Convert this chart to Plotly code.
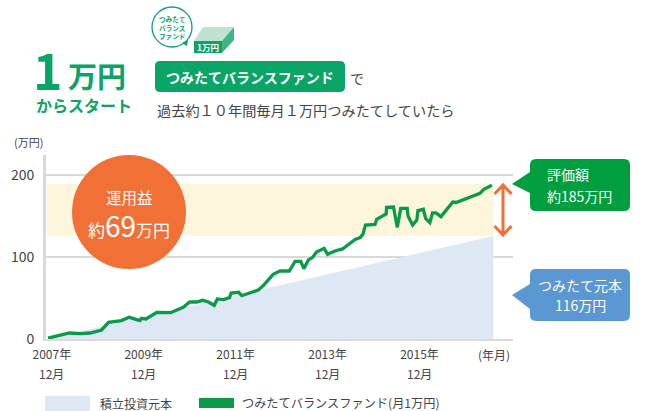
import plotly.graph_objects as go

# ---- data ----
fund_months = [0, 5.6, 8.4, 11, 14, 15.8, 19.2, 21.2, 24, 24.4, 25.6, 28.4, 32, 35.3, 37, 38.8, 40.4, 41.9, 43.4, 44.2,
               45.8, 47.4, 47.8, 49.8, 50.6, 54.9, 56.2, 58.8, 60.6, 63, 64.5, 66, 66.8, 68, 69.1, 70.1, 72.1, 73, 74.9,
               76.9, 80.2, 81.5, 82.2, 82.9, 85.4, 85.8, 88.3, 88.4, 90.2, 91.2, 92.1, 93.8, 94, 95.2, 96.3, 96.6, 98,
               98.6, 99.7, 100.4, 101.3, 102.6, 105.7, 106.7, 112.8, 113.8, 115.9]
fund_values = [1, 7.3, 6.5, 7.3, 11, 20.3, 22.4, 26.4, 22.4, 25.2, 24.4, 32.5, 32.1, 38.6, 45.1, 45.1, 47.2, 45.1, 41, 48.8,
               48, 50.4, 56, 56.9, 52.8, 59.7, 65, 78.9, 82.9, 82.9, 94.7, 94.7, 85.8, 96.4, 99.6, 106.1, 110.6, 103.3, 107.3,
               109.8, 121.5, 123.6, 127.6, 139, 139.8, 145.9, 152.4, 160.6, 161, 136.2, 159.3, 159.3, 150, 139, 145, 156.5, 158.2,
               147, 141.9, 153.7, 153.7, 149.2, 167, 166.7, 177.6, 182.5, 187.4]
principal_months = [0, 116.3]
principal_values = [0, 125.6]
band_values = [125.6, 189]
y_ticks = [0, 100, 200]
x_tick_months = [1, 25, 49, 73, 97]
x_year_labels = ["2007年", "2009年", "2011年", "2013年", "2015年"]
x_month_label = "12月"

FONT = "Noto Sans CJK JP"
W, H = 656, 411
L, R, T, B = 46, 513, 155, 339
GREEN = "#0aa566"
LINE = "#0b9a4a"
GREY = "#d9d9d9"
TXT = "#444444"


def px(x):
    return (x - L) / (R - L)


def py(y):
    return (B - y) / (B - T)


def P(points):
    return "M" + " L".join(f"{px(x):.5f},{py(y):.5f}" for x, y in points) + " Z"


def rrect(x0, y0, x1, y1, r, tip=None, up=13, down=10):
    """Rounded rectangle, optionally with a pointer on its left edge."""
    s = f"M{px(x0 + r):.5f},{py(y0):.5f} L{px(x1 - r):.5f},{py(y0):.5f} "
    s += f"Q{px(x1):.5f},{py(y0):.5f} {px(x1):.5f},{py(y0 + r):.5f} L{px(x1):.5f},{py(y1 - r):.5f} "
    s += f"Q{px(x1):.5f},{py(y1):.5f} {px(x1 - r):.5f},{py(y1):.5f} L{px(x0 + r):.5f},{py(y1):.5f} "
    s += f"Q{px(x0):.5f},{py(y1):.5f} {px(x0):.5f},{py(y1 - r):.5f} "
    if tip:
        s += f"L{px(x0):.5f},{py(tip[1] + down):.5f} L{px(tip[0]):.5f},{py(tip[1]):.5f} L{px(x0):.5f},{py(tip[1] - up):.5f} "
    s += f"L{px(x0):.5f},{py(y0 + r):.5f} Q{px(x0):.5f},{py(y0):.5f} {px(x0 + r):.5f},{py(y0):.5f} Z"
    return s


fig = go.Figure()
fig.add_trace(go.Scatter(x=principal_months, y=principal_values, mode="lines", fill="tozeroy",
                         fillcolor="#dde8f4", line=dict(width=0, color="#dde8f4"), name="積立投資元本", hoverinfo="skip"))
fig.add_trace(go.Scatter(x=fund_months, y=fund_values, mode="lines", line=dict(color=LINE, width=3.3),
                         name="つみたてバランスファンド(月1万円)"))

shapes = [
    dict(type="rect", xref="x", yref="y", x0=principal_months[0] - 0.2, x1=principal_months[1], y0=band_values[0], y1=band_values[1],
         fillcolor="#fdf6dc", line_width=0, layer="below"),
]


def pshape(path, fill, line=None, lw=0):
    return dict(type="path", xref="paper", yref="paper", path=path, fillcolor=fill,
                line=dict(color=line or fill, width=lw), layer="above")


# orange circle
shapes.append(dict(type="circle", xref="paper", yref="paper", x0=px(72), x1=px(186), y0=py(269), y1=py(155),
                   fillcolor="#f07036", line_width=0, layer="above"))
# callouts
shapes.append(pshape(rrect(530, 159, 630, 211, 6, (512, 184), 12, 9), "#009e3f"))
shapes.append(pshape(rrect(530, 269, 630, 321, 6, (512, 295), 11, 14), "#5b97d2"))
# double arrow
arrow = dict(type="path", xref="paper", yref="paper", layer="above", line=dict(color="#f07036", width=3),
             path=f"M{px(503):.5f},{py(185):.5f} L{px(503):.5f},{py(235):.5f} "
                  f"M{px(494.5):.5f},{py(194):.5f} L{px(503):.5f},{py(185):.5f} L{px(511.5):.5f},{py(194):.5f} "
                  f"M{px(494.5):.5f},{py(226):.5f} L{px(503):.5f},{py(235):.5f} L{px(511.5):.5f},{py(226):.5f}")
shapes.append(arrow)
# header pill
shapes.append(pshape(rrect(155, 61, 345, 92, 5), GREEN))
# icon bubble
shapes.append(dict(type="circle", xref="paper", yref="paper", x0=px(152), x1=px(192), y0=py(47), y1=py(7),
                   fillcolor="white", line=dict(color=GREEN, width=1.3), layer="above"))
shapes.append(pshape(P([(182, 43), (188, 40), (187, 46)]), GREEN))
# icon box
shapes.append(pshape(P([(194, 41), (203, 27), (234, 27), (222, 41)]), "#bfe3d0"))
shapes.append(pshape(P([(222, 41), (234, 27), (234, 40), (222, 53)]), "#3fb585"))
shapes.append(pshape(P([(194, 41), (222, 41), (222, 53), (194, 53)]), GREEN))
# legend patches
shapes.append(pshape(P([(45, 396), (90, 396), (90, 411), (45, 411)]), "#dde8f4"))
shapes.append(pshape(P([(199, 398), (234, 398), (234, 408), (199, 408)]), LINE))


def txt(x, y, text, size, color=TXT, anchor="center", bold=False):
    return dict(xref="paper", yref="paper", x=px(x), y=py(y), text=f"<b>{text}</b>" if bold else text, showarrow=False,
                xanchor=anchor, yanchor="middle", align="center", font=dict(family=FONT, size=size, color=color))


ann = [
    txt(31, 68, "1", 50, GREEN, "left", True),
    txt(66, 75, "万円", 29, GREEN, "left", True),
    txt(84, 105, "からスタート", 16, GREEN, "center", True),
    txt(250, 77, "つみたてバランスファンド", 14, "white", "center", True),
    txt(357, 78, "で", 14, TXT),
    txt(306, 110, "過去約１０年間毎月１万円つみたてしていたら", 14.2, TXT),
    txt(172, 27, "つみたて<br>バランス<br>ファンド", 6.6, GREEN, "center", True),
    txt(208, 47, "1万円", 8.5, "white", "center", True),
    txt(28, 142, "(万円)", 11, TXT),
    txt(129, 197, "運用益", 15.5, "white"),
    txt(129, 225, '約<span style="font-size:28px">69</span>万円', 17, "white"),
    txt(545, 174, "評価額", 14, "white", "left"),
    txt(545, 196, "約185万円", 14, "white", "left"),
    txt(580, 285, "つみたて元本", 14, "white"),
    txt(580, 305, "116万円", 14, "white"),
    txt(494, 354, "(年月)", 12, TXT),
    txt(98, 403, "積立投資元本", 12, TXT, "left"),
    txt(240, 403, "つみたてバランスファンド(月1万円)", 12.2, TXT, "left"),
]
for m in x_tick_months:
    ann.append(dict(xref="x", yref="paper", x=m, y=py(373), text=x_month_label, showarrow=False, xanchor="center",
                    yanchor="middle", font=dict(family=FONT, size=12, color=TXT)))

fig.update_layout(
    width=W, height=H, autosize=False, showlegend=False, paper_bgcolor="white", plot_bgcolor="white",
    margin=dict(l=L, r=W - R, t=T, b=H - B, pad=0, autoexpand=False),
    xaxis=dict(range=[(L - 48) / 3.83, (R - 48) / 3.83], tickvals=x_tick_months, ticktext=x_year_labels, showgrid=False,
               zeroline=False, showline=True, linecolor=GREY, linewidth=2, ticks="", ticklabelstandoff=4, automargin=False,
               tickfont=dict(family=FONT, size=12, color=TXT)),
    yaxis=dict(range=[0, (B - T) / 0.82], tickvals=y_ticks, showgrid=True, gridcolor=GREY, gridwidth=2, zeroline=False,
               showline=True, linecolor=GREY, linewidth=3, ticks="", ticklabelstandoff=6, automargin=False,
               tickfont=dict(family=FONT, size=14, color=TXT)),
    shapes=shapes, annotations=ann,
)
fig.write_html("out.html", config={"displayModeBar": False}, post_script="document.body.style.margin='0';")
